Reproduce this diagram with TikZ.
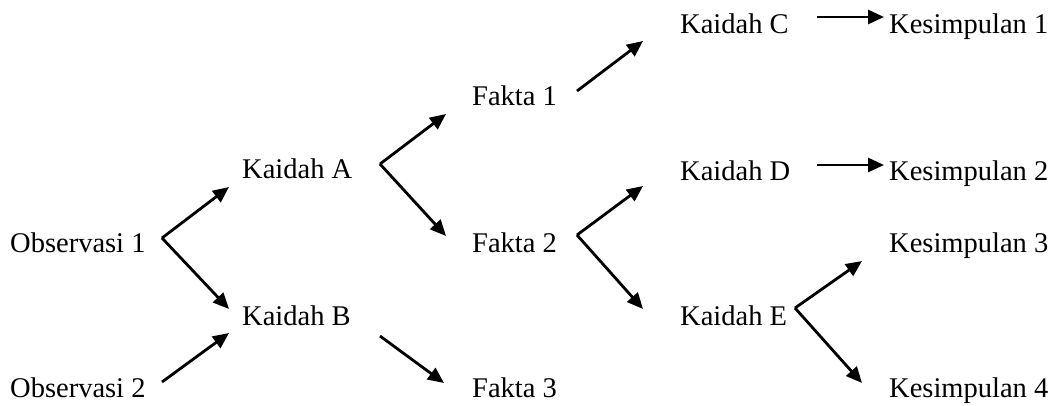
\documentclass[tikz,border=0pt]{standalone}
\usepackage{fontspec}
\setmainfont{Liberation Serif}
\usetikzlibrary{arrows.meta}
\tikzset{
  lbl/.style={anchor=base west, inner sep=0pt, font=\fontsize{28.5}{34}\selectfont},
  arr/.style={line width=2.8pt, -{Triangle[length=16pt,width=14pt]}},
}
\begin{document}
\begin{tikzpicture}[x=1pt,y=-1pt]
\useasboundingbox (0,0) rectangle (1058,405);
% text nodes
\node[lbl] (o1) at (10,252) {Observasi 1};
\node[lbl] (o2) at (10,397) {Observasi 2};
\node[lbl] (ka) at (242,178) {Kaidah A};
\node[lbl] (kb) at (242,325) {Kaidah B};
\node[lbl] (f1) at (472,105) {Fakta 1};
\node[lbl] (f2) at (472,252) {Fakta 2};
\node[lbl] (f3) at (472,397) {Fakta 3};
\node[lbl] (kc) at (680,33) {Kaidah C};
\node[lbl] (kd) at (680,180) {Kaidah D};
\node[lbl] (ke) at (680,325) {Kaidah E};
\node[lbl] (k1) at (889,33) {Kesimpulan 1};
\node[lbl] (k2) at (889,180) {Kesimpulan 2};
\node[lbl] (k3) at (889,252) {Kesimpulan 3};
\node[lbl] (k4) at (889,397) {Kesimpulan 4};
% connector points
\coordinate (o1v) at (162,238);
\coordinate (kaIn) at (229,187);
\coordinate (kbIn) at (229,309);
\coordinate (o2s) at (162,382);
\coordinate (kbIn2) at (229,333);
\coordinate (kav) at (380,164);
\coordinate (f1In) at (446,114);
\coordinate (f2In) at (446,236);
\coordinate (kbs) at (380,336);
\coordinate (f3In) at (444,383);
\coordinate (f1s) at (577,91);
\coordinate (kcIn) at (643,41);
\coordinate (f2v) at (577,235);
\coordinate (kdIn) at (643,186);
\coordinate (keIn) at (643,309);
\coordinate (kcs) at (817,17);
\coordinate (k1In) at (884,17);
\coordinate (kds) at (817,165);
\coordinate (k2In) at (884,165);
\coordinate (kev) at (795,308);
\coordinate (k3In) at (862,261);
\coordinate (k4In) at (862,383);
% connectors
\draw[arr] (o1v) -- (kaIn);
\draw[arr] (o1v) -- (kbIn);
\draw[arr] (o2s) -- (kbIn2);
\draw[arr] (kav) -- (f1In);
\draw[arr] (kav) -- (f2In);
\draw[arr] (kbs) -- (f3In);
\draw[arr] (f1s) -- (kcIn);
\draw[arr] (f2v) -- (kdIn);
\draw[arr] (f2v) -- (keIn);
\draw[arr] (kcs) -- (k1In);
\draw[arr] (kds) -- (k2In);
\draw[arr] (kev) -- (k3In);
\draw[arr] (kev) -- (k4In);
\end{tikzpicture}
\end{document}
